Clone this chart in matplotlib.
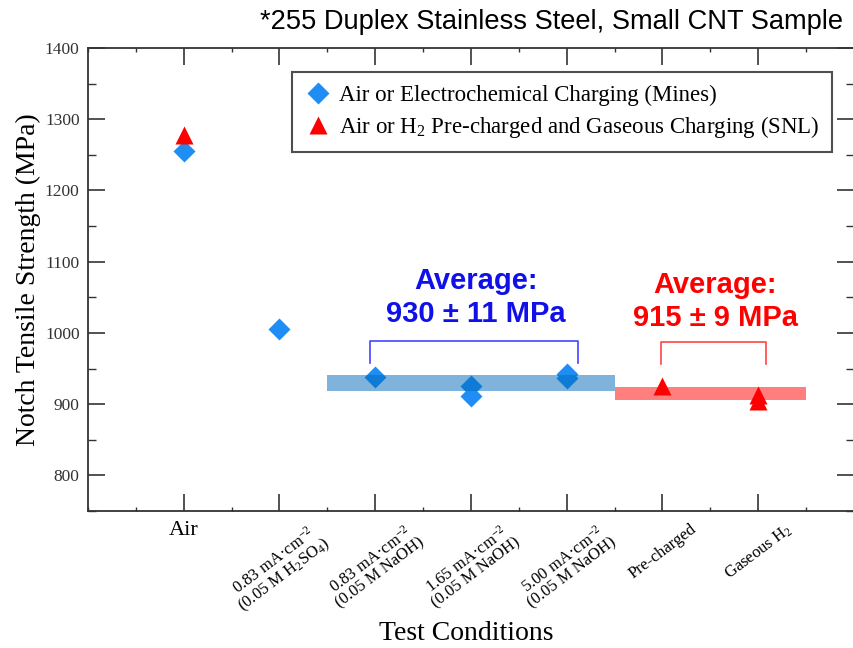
import matplotlib
matplotlib.use("Agg")
import matplotlib.pyplot as plt
from matplotlib.ticker import MultipleLocator
from matplotlib.transforms import ScaledTranslation
import numpy as np

plt.rcParams['font.family'] = ['Liberation Serif', 'DejaVu Serif']
plt.rcParams['mathtext.fontset'] = 'custom'
plt.rcParams['mathtext.rm'] = 'Liberation Serif'
plt.rcParams['mathtext.it'] = 'Liberation Serif:italic'

# test conditions along the x axis (positions 1..7)
conditions = [
    "Air",
    "0.83 mA·cm$^{-2}$\n(0.05 M H$_2$SO$_4$)",
    "0.83 mA·cm$^{-2}$\n(0.05 M NaOH)",
    "1.65 mA·cm$^{-2}$\n(0.05 M NaOH)",
    "5.00 mA·cm$^{-2}$\n(0.05 M NaOH)",
    "Pre-charged",
    "Gaseous H$_2$",
]

# notch tensile strength, Mines (air / electrochemical charging)
mines_x = [1, 2, 3, 4, 4, 5, 5]
mines_y = [1256, 1006, 938, 926, 912, 942, 937]

# notch tensile strength, SNL (air / H2 pre-charged / gaseous)
snl_x = [1, 6, 7, 7]
snl_y = [1278, 926, 913, 905]

# group averages and scatter
avg_vals = [930, 915]
avg_err = [11, 9]

blue = '#1e8ef5'
red = '#ff0000'

fig = plt.figure(figsize=(8.54, 6.48), dpi=100)
ax = fig.add_axes([88 / 854, 1 - 511 / 648, 766 / 854, 463 / 648])

ax.plot(mines_x, mines_y, 'D', color=blue, ms=11, mec='none', zorder=3,
        label='Air or Electrochemical Charging (Mines)')
ax.plot(snl_x, snl_y, '^', color=red, ms=13, mec='none', zorder=3,
        label='Air or H$_2$ Pre-charged and Gaseous Charging (SNL)')

# shaded average bands
ax.fill_between([2.5, 5.5], avg_vals[0] - avg_err[0], avg_vals[0] + avg_err[0],
                color='#0069b9', alpha=0.5, lw=0, zorder=4)
ax.fill_between([5.5, 7.5], avg_vals[1] - avg_err[1], avg_vals[1] + avg_err[1],
                color='#ff0000', alpha=0.5, lw=0, zorder=4)

# brackets over each group
ax.plot([2.95, 2.95, 5.12, 5.12], [958, 988, 988, 958], color='#4444ff', lw=1.2,
        solid_joinstyle='round', zorder=4)
ax.plot([5.98, 5.98, 7.08, 7.08], [956, 987, 987, 956], color='#ff4444', lw=1.2,
        solid_joinstyle='round', zorder=4)

ax.text(4.05, 1050, f"Average:\n{avg_vals[0]} ± {avg_err[0]} MPa", color='#1010e8',
        family='Liberation Sans', weight='bold', fontsize=21, ha='center', va='center',
        linespacing=1.2)
ax.text(6.55, 1044, f"Average:\n{avg_vals[1]} ± {avg_err[1]} MPa", color=red,
        family='Liberation Sans', weight='bold', fontsize=21, ha='center', va='center',
        linespacing=1.2)

ax.set_xlim(0, 8)
ax.set_ylim(750, 1400)
ax.yaxis.set_major_locator(MultipleLocator(100))
ax.yaxis.set_minor_locator(MultipleLocator(50))
ax.set_xticks(np.arange(1, 8))
ax.xaxis.set_minor_locator(MultipleLocator(0.5))
ax.set_xticklabels(conditions)
for i, lab in enumerate(ax.get_xticklabels()):
    if i == 0:
        lab.set_fontsize(16)
        # "Air" sits a little lower than the slanted labels
        lab.set_transform(lab.get_transform() + ScaledTranslation(0, -6 / 72, fig.dpi_scale_trans))
    else:
        lab.set_fontsize(12)
        lab.set_rotation(37)
        lab.set_ha('center')
        lab.set_multialignment('center')
        lab.set_linespacing(0.9)

ax.tick_params(which='both', direction='in', top=True, right=True, color='#333333')
ax.tick_params(which='major', length=12, width=1.2)
ax.tick_params(axis='y', which='minor', length=6, width=1.0)
ax.tick_params(axis='x', which='minor', length=3, width=1.0)
ax.tick_params(axis='y', labelsize=12.5, pad=6, labelcolor='#333333')
ax.tick_params(axis='x', pad=7)
for s in ax.spines.values():
    s.set_linewidth(1.3)
    s.set_color('#333333')

ax.set_ylabel('Notch Tensile Strength (MPa)', fontsize=20, labelpad=3)
ax.set_xlabel('Test Conditions', fontsize=20, va='center')
ax.xaxis.set_label_coords((466 - 88) / 766, -(633 - 511) / 463)

leg = ax.legend(loc='upper left', bbox_to_anchor=(0.266, 0.948), borderaxespad=0,
                fontsize=16.5, frameon=True, fancybox=False, edgecolor='#222222',
                handletextpad=0.3, handlelength=1.2, borderpad=0.55, labelspacing=0.35)
leg.get_frame().set_linewidth(1.5)

fig.text(0.987, 0.966, '*255 Duplex Stainless Steel, Small CNT Sample',
         family='Liberation Sans', fontsize=19.6, ha='right', va='center')

fig.savefig('out.png', dpi=100)
